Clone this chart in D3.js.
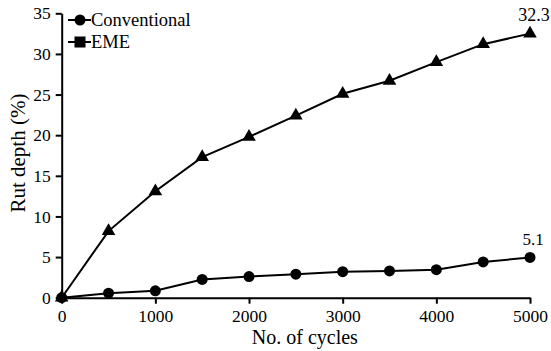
<!DOCTYPE html>
<html>
<head>
<meta charset="utf-8">
<script src="https://cdn.jsdelivr.net/npm/d3@7.9.0/dist/d3.min.js"></script>
<style>
  body { margin: 0; background: #fff; }
  svg text { font-family: "Liberation Serif", Tinos, "Times New Roman", Times, "DejaVu Serif", serif; fill: #000; }
</style>
</head>
<body>
<div id="chart"></div>
<script>
const cycles = [0, 500, 1000, 1500, 2000, 2500, 3000, 3500, 4000, 4500, 5000];
const conventional = [0, 0.55, 0.85, 2.25, 2.6, 2.9, 3.2, 3.3, 3.45, 4.4, 4.95];
const eme = [0, 8.2, 13.1, 17.3, 19.8, 22.4, 25.1, 26.7, 29.0, 31.2, 32.5];
const xTicks = [0, 1000, 2000, 3000, 4000, 5000];
const yTicks = [0, 5, 10, 15, 20, 25, 30, 35];
const endLabels = ["5.1", "32.3"];

const serif = '"Liberation Serif", Tinos, "Times New Roman", Times, "DejaVu Serif", serif';
const width = 551, height = 351;
const margin = { top: 13.3, right: 21, bottom: 53.3, left: 61.7 };

const svg = d3.select("#chart").append("svg")
  .attr("width", width)
  .attr("height", height)
  .attr("font-family", serif);

const x = d3.scaleLinear().domain([0, 5000]).range([margin.left, width - margin.right]);
const y = d3.scaleLinear().domain([0, 35]).range([height - margin.bottom, margin.top]);

// axes
const xAxis = svg.append("g")
  .attr("transform", `translate(0,${y(0)})`)
  .call(d3.axisBottom(x).tickValues(xTicks).tickFormat(d3.format("d"))
    .tickSize(6).tickSizeOuter(0).tickPadding(6));
const yAxis = svg.append("g")
  .attr("transform", `translate(${x(0)},0)`)
  .call(d3.axisLeft(y).tickValues(yTicks).tickFormat(d3.format("d"))
    .tickSize(6).tickSizeOuter(0).tickPadding(5));

[xAxis, yAxis].forEach(ax => {
  ax.attr("font-family", serif).attr("font-size", 17.5);
  ax.select(".domain").attr("stroke", "#000").attr("stroke-width", 2);
  ax.selectAll(".tick line").attr("stroke", "#000").attr("stroke-width", 2);
  ax.selectAll(".tick text").attr("fill", "#000");
});

// axis titles
svg.append("text")
  .attr("x", x(2500) + 9)
  .attr("y", 344)
  .attr("text-anchor", "middle")
  .attr("font-size", 20)
  .text("No. of cycles");

svg.append("text")
  .attr("transform", `translate(25,${y(17.8)}) rotate(-90)`)
  .attr("text-anchor", "middle")
  .attr("font-size", 21)
  .text("Rut depth (%)");

const line = d3.line()
  .x((d, i) => x(cycles[i]))
  .y(d => y(d));

// series lines
[conventional, eme].forEach(vals => {
  svg.append("path")
    .attr("d", line(vals))
    .attr("fill", "none")
    .attr("stroke", "#000")
    .attr("stroke-width", 2);
});

// markers
svg.selectAll("circle.conv")
  .data(conventional)
  .join("circle")
    .attr("class", "conv")
    .attr("cx", (d, i) => x(cycles[i]))
    .attr("cy", d => y(d))
    .attr("r", 5.5)
    .attr("fill", "#000");

const tri = d3.symbol().type(d3.symbolTriangle).size(80);
svg.selectAll("path.eme")
  .data(eme)
  .join("path")
    .attr("class", "eme")
    .attr("d", tri)
    .attr("transform", (d, i) => `translate(${x(cycles[i])},${y(d)})`)
    .attr("fill", "#000");

// end value labels
svg.append("text")
  .attr("x", x(5000) + 3)
  .attr("y", y(conventional[conventional.length - 1]) - 12)
  .attr("text-anchor", "middle")
  .attr("font-size", 17)
  .text(endLabels[0]);

svg.append("text")
  .attr("x", x(5000) + 4)
  .attr("y", y(eme[eme.length - 1]) - 13)
  .attr("text-anchor", "middle")
  .attr("font-size", 18)
  .text(endLabels[1]);

// legend
const legend = svg.append("g");
const items = [
  { name: "Conventional", shape: "circle" },
  { name: "EME", shape: "square" }
];
items.forEach((it, i) => {
  const ly = 20 + i * 22;
  legend.append("line")
    .attr("x1", 68).attr("x2", 91)
    .attr("y1", ly).attr("y2", ly)
    .attr("stroke", "#000").attr("stroke-width", 2);
  if (it.shape === "circle") {
    legend.append("circle").attr("cx", 80).attr("cy", ly).attr("r", 5.5).attr("fill", "#000");
  } else {
    legend.append("rect").attr("x", 74.5).attr("y", ly - 5.5).attr("width", 11).attr("height", 11).attr("fill", "#000");
  }
  legend.append("text")
    .attr("x", 91)
    .attr("y", ly + 5.5)
    .attr("font-size", 18.5)
    .text(it.name);
});
</script>
</body>
</html>
